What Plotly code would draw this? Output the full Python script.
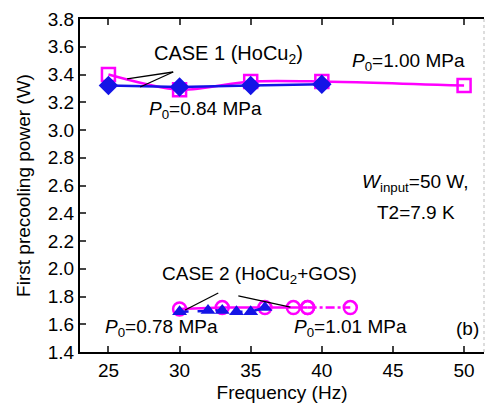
import plotly.graph_objects as go

# CASE 1 (HoCu2)
c1_p100_x = [25, 30, 35, 40, 50]
c1_p100_y = [3.40, 3.29, 3.35, 3.35, 3.32]
c1_p084_x = [25, 30, 35, 40]
c1_p084_y = [3.32, 3.31, 3.32, 3.33]
# CASE 2 (HoCu2+GOS)
c2_p101_x = [30, 33, 36, 38, 39, 42]
c2_p101_y = [1.71, 1.72, 1.72, 1.72, 1.72, 1.72]
c2_p078_x = [30, 32, 33, 34, 35, 36]
c2_p078_y = [1.69, 1.70, 1.70, 1.69, 1.69, 1.72]

x_ticks = [25, 30, 35, 40, 45, 50]
y_ticks = [1.4, 1.6, 1.8, 2.0, 2.2, 2.4, 2.6, 2.8, 3.0, 3.2, 3.4, 3.6, 3.8]

MAG = "#FF00FF"
BLU = "#1414E6"
FONT = "Arial, Liberation Sans, sans-serif"

fig = go.Figure()
fig.add_trace(go.Scatter(x=c1_p100_x, y=c1_p100_y, mode="lines+markers",
                         line=dict(color=MAG, width=2.5, shape="spline", smoothing=0.8),
                         marker=dict(symbol="square-open", size=13, color=MAG, line=dict(width=2.5))))
fig.add_trace(go.Scatter(x=c1_p084_x, y=c1_p084_y, mode="lines+markers",
                         line=dict(color=BLU, width=2.5),
                         marker=dict(symbol="diamond", size=15, color=BLU)))
n_solid = 5
fig.add_trace(go.Scatter(x=c2_p101_x[:n_solid], y=c2_p101_y[:n_solid], mode="lines+markers",
                         line=dict(color=MAG, width=2.5),
                         marker=dict(symbol="circle-open", size=13, color=MAG, line=dict(width=2.5))))
fig.add_trace(go.Scatter(x=c2_p101_x[n_solid - 1:], y=c2_p101_y[n_solid - 1:], mode="lines+markers",
                         line=dict(color=MAG, width=2.5, dash="dashdot"),
                         marker=dict(symbol="circle-open", size=13, color=MAG, line=dict(width=2.5))))
fig.add_trace(go.Scatter(x=c2_p078_x, y=c2_p078_y, mode="lines+markers",
                         line=dict(color=BLU, width=2.5, dash="dash"),
                         marker=dict(symbol="triangle-up", size=13, color=BLU)))

ann = []
def txt(x, y, s, xanchor="left", size=19):
    ann.append(dict(x=x, y=y, xref="x", yref="y", text=s, showarrow=False,
                    xanchor=xanchor, yanchor="middle", font=dict(size=size, color="black", family=FONT)))

P0 = "<i>P</i><sub>0</sub>"
txt(28.07, 3.541, "CASE 1 (HoCu<sub>2</sub>)", size=20)
txt(42.0, 3.49, P0 + "=1.00 MPa")
txt(27.72, 3.145, P0 + "=0.84 MPa")
txt(42.7, 2.62, "<i>W</i><sub>input</sub>=50 W,")
txt(43.75, 2.402, "T2=7.9 K")
txt(28.63, 1.955, "CASE 2 (HoCu<sub>2</sub>+GOS)")
txt(24.62, 1.573, P0 + "=0.78 MPa")
txt(37.93, 1.573, P0 + "=1.01 MPa")
txt(49.27, 1.573, "(b)")

shapes = []
def seg(x0, y0, x1, y1):
    shapes.append(dict(type="line", xref="x", yref="y", x0=x0, y0=y0, x1=x1, y1=y1,
                       line=dict(color="black", width=1.3)))
seg(29.55, 3.418, 26.31, 3.368)
seg(29.55, 3.418, 27.23, 3.310)
seg(32.72, 1.825, 30.39, 1.703)
seg(34.13, 1.804, 37.79, 1.724)
shapes.append(dict(type="line", xref="paper", yref="paper", x0=1, y0=0, x1=1, y1=1,
                   line=dict(color="#BBBBBB", width=1, dash="dot")))

fig.update_layout(
    width=485, height=405, margin=dict(l=80, r=1, t=19, b=53),
    paper_bgcolor="white", plot_bgcolor="white", showlegend=False,
    font=dict(family=FONT, size=19, color="black"),
    annotations=ann, shapes=shapes,
)
fig.update_xaxes(range=[23, 51.4], tickvals=x_ticks, ticks="inside", ticklen=6, tickwidth=1.5,
                 showline=True, linecolor="black", linewidth=2, mirror="ticks", showgrid=False,
                 zeroline=False, tickfont=dict(size=19),
                 title=dict(text="Frequency (Hz)", font=dict(size=19), standoff=6))
fig.update_yaxes(range=[1.4, 3.8], tickvals=y_ticks, tickformat=".1f", ticks="inside", ticklen=6,
                 tickwidth=1.5, showline=True, linecolor="black", linewidth=2, showgrid=False,
                 zeroline=False, tickfont=dict(size=19),
                 title=dict(text="First precooling power (W)", font=dict(size=19), standoff=12))

fig.write_html("out.html")
